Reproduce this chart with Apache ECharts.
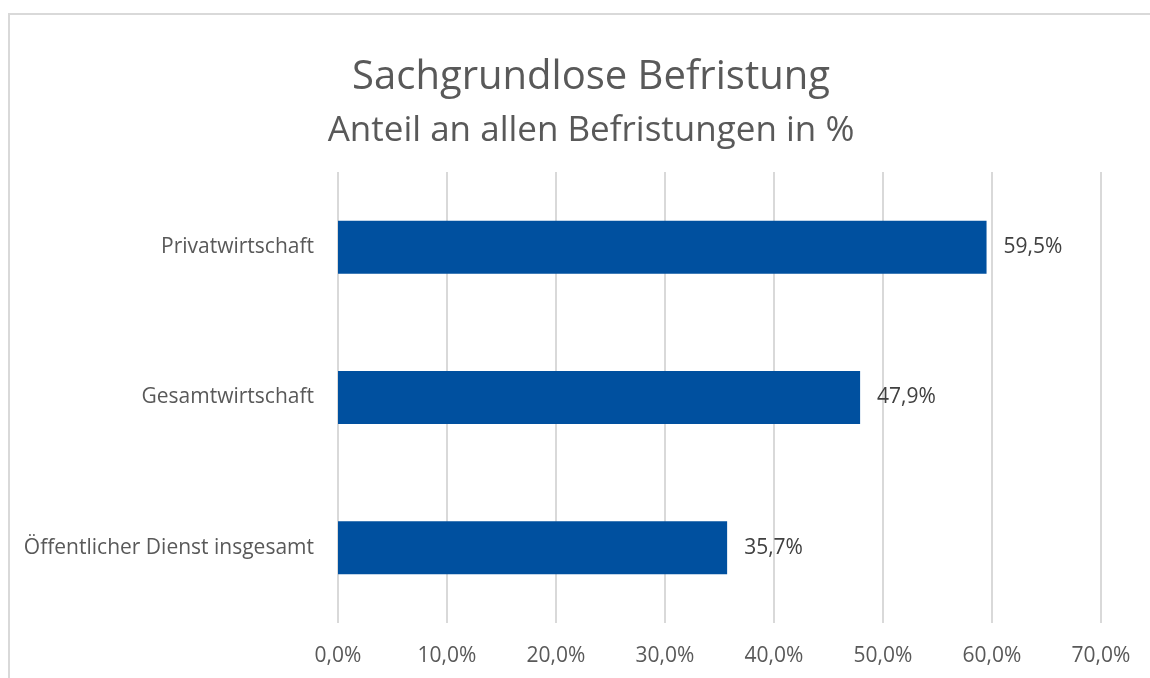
<!DOCTYPE html>
<html>
<head>
<meta charset="UTF-8">
<title>Sachgrundlose Befristung</title>
<script src="https://cdn.jsdelivr.net/npm/echarts@6/dist/echarts.min.js"></script>
<style>
	html, body { margin: 0; padding: 0; background: #fff; }
	#chart { width: 1150px; height: 678px; }
</style>
</head>
<body>
<div id="chart"></div>
<script>
// Daten (von unten nach oben, wie im Balkendiagramm)
var categories = ['Öffentlicher Dienst insgesamt', 'Gesamtwirtschaft', 'Privatwirtschaft'];
var values = [35.7, 47.9, 59.5];
var axisTicks = [0, 10, 20, 30, 40, 50, 60, 70];

function pct(v) {
	return Number(v).toFixed(1).replace('.', ',') + '%';
}

var chart = echarts.init(document.getElementById('chart'));
chart.setOption({
	animation: false,
	textStyle: { fontFamily: '"Open Sans", "Noto Sans", sans-serif' },
	graphic: [{
		type: 'rect',
		shape: { x: 9, y: 14, width: 1200, height: 700 },
		style: { fill: 'none', stroke: '#d9d9d9', lineWidth: 2 },
		silent: true
	}],
	title: {
		text: 'Sachgrundlose Befristung',
		subtext: 'Anteil an allen Befristungen in %',
		left: 586,
		textAlign: 'center',
		top: 53,
		itemGap: 16,
		textStyle: { fontSize: 40, fontWeight: 'normal', color: '#595959' },
		subtextStyle: { fontSize: 35, color: '#595959' }
	},
	grid: { left: 338, right: 49, top: 172, bottom: 55 },
	xAxis: {
		type: 'value',
		min: axisTicks[0],
		max: axisTicks[axisTicks.length - 1],
		interval: 10,
		axisLine: { show: false },
		axisTick: { show: false },
		splitLine: { lineStyle: { color: '#d9d9d9', width: 2 } },
		axisLabel: { formatter: pct, fontSize: 21, color: '#595959', margin: 23 }
	},
	yAxis: {
		type: 'category',
		data: categories,
		axisLine: { show: false },
		axisTick: { show: false },
		axisLabel: { fontSize: 21, color: '#595959', margin: 24 }
	},
	series: [{
		type: 'bar',
		data: values,
		barWidth: 53,
		itemStyle: { color: '#00509f' },
		label: {
			show: true,
			position: 'right',
			distance: 17,
			formatter: function (p) { return pct(p.value); },
			fontSize: 21,
			color: '#404040'
		}
	}]
});
</script>
</body>
</html>
